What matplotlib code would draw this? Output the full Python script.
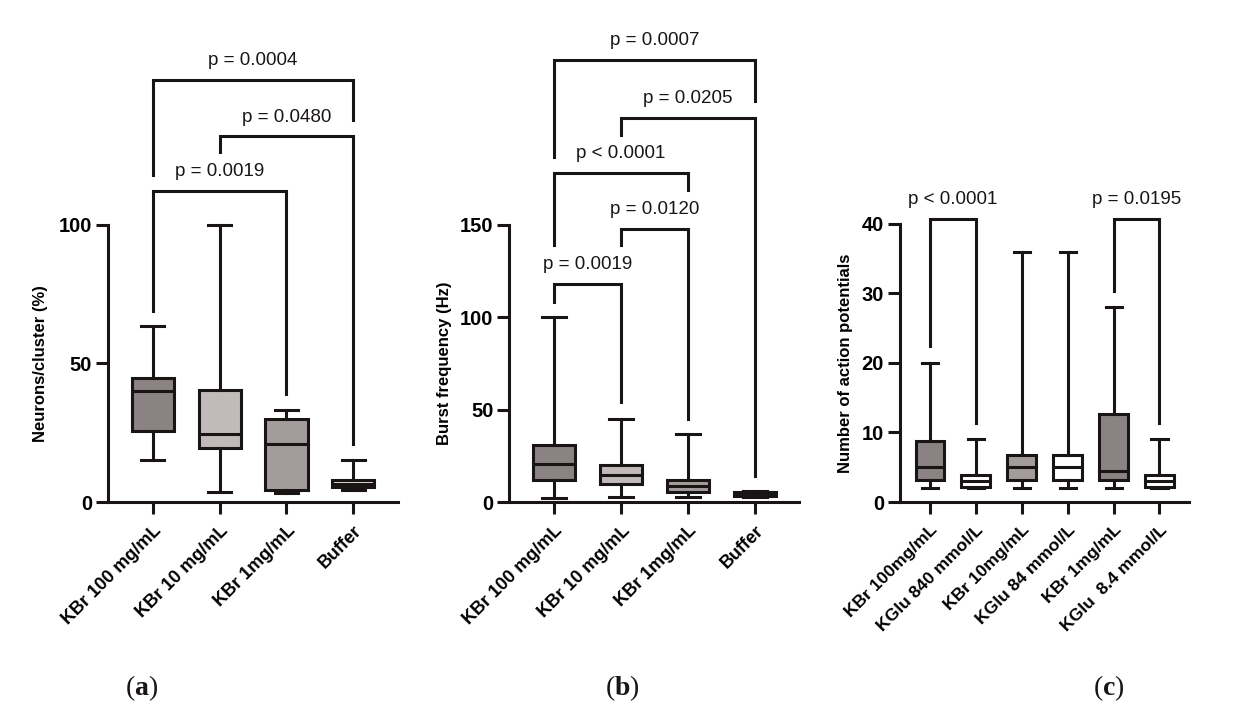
import matplotlib.pyplot as plt

plt.rcParams['font.family'] = ['Liberation Sans', 'DejaVu Sans']
plt.rcParams['mathtext.fontset'] = 'custom'
plt.rcParams['mathtext.rm'] = 'Liberation Serif'
plt.rcParams['mathtext.bf'] = 'Liberation Serif:bold'

INK = '#1a1515'

# (a) neurons per cluster
a_labels = ['KBr 100 mg/mL', 'KBr 10 mg/mL', 'KBr 1mg/mL', 'Buffer']
a_low = [15.0, 3.7, 3.2, 4.2]
a_q1 = [25.5, 19.6, 4.2, 5.4]
a_med = [40.0, 24.6, 20.8, 6.6]
a_q3 = [44.7, 40.5, 30.0, 7.9]
a_high = [63.4, 100.0, 33.0, 15.0]
a_colors = ['#8b8283', '#c1b9ba', '#a39b9c', '#dedada']
a_pairs = [(0, 2), (1, 3), (0, 3)]
a_bar_y = [112.0, 131.8, 152.3]
a_left_end = [69.0, 126.2, 117.8]
a_right_end = [38.8, 21.0, 137.9]
a_pvals = ['p = 0.0019', 'p = 0.0480', 'p = 0.0004']

# (b) burst frequency
b_labels = ['KBr 100 mg/mL', 'KBr 10 mg/mL', 'KBr 1mg/mL', 'Buffer']
b_low = [2.4, 2.7, 2.7, 2.5]
b_q1 = [12.1, 9.6, 5.4, 3.2]
b_med = [20.4, 14.4, 8.7, 4.2]
b_q3 = [30.7, 20.2, 12.1, 5.2]
b_high = [100.0, 45.1, 36.6, 6.0]
b_colors = ['#8b8283', '#c1b9ba', '#a39b9c', '#1a1414']
b_pairs = [(0, 1), (1, 2), (0, 2), (1, 3), (0, 3)]
b_bar_y = [117.7, 147.5, 177.9, 207.9, 238.9]
b_left_end = [108.2, 138.8, 138.8, 198.3, 186.6]
b_right_end = [54.0, 45.1, 168.5, 13.9, 216.7]
b_pvals = ['p = 0.0019', 'p = 0.0120', 'p < 0.0001', 'p = 0.0205', 'p = 0.0007']

# (c) number of action potentials
c_labels = ['KBr 100mg/mL', 'KGlu 840 mmol/L', 'KBr 10mg/mL',
            'KGlu 84 mmol/L', 'KBr 1mg/mL', 'KGlu  8.4 mmol/L']
c_low = [2, 2, 2, 2, 2, 2]
c_q1 = [3.1, 2.1, 3.1, 3.1, 3.1, 2.1]
c_med = [5, 3, 5, 5, 4.5, 3]
c_q3 = [8.8, 3.9, 6.8, 6.8, 12.7, 3.9]
c_high = [20, 9, 36, 36, 28, 9]
c_colors = ['#8b8283', '#ffffff', '#a39b9c', '#ffffff', '#8b8283', '#ffffff']
c_pairs = [(0, 1), (4, 5)]
c_bar_y = [40.7, 40.7]
c_left_end = [22.4, 30.3]
c_right_end = [11.4, 11.4]
c_pvals = ['p < 0.0001', 'p = 0.0195']


def panel(ax, labels, low, q1, med, q3, high, colors, pairs, bar_y,
          left_end, right_end, pvals, ylabel, yticks, ytop, xlim, label_x,
          xfont):
    lw = 2.2
    n = len(labels)
    pos = list(range(n))
    stats = [dict(whislo=low[i], q1=q1[i], med=med[i], q3=q3[i],
                  whishi=high[i], fliers=[]) for i in pos]
    bp = ax.bxp(stats, positions=pos, widths=0.63, capwidths=0.35,
                patch_artist=True, showfliers=False,
                boxprops=dict(linewidth=lw, edgecolor=INK),
                medianprops=dict(linewidth=lw, color=INK),
                whiskerprops=dict(linewidth=lw, color=INK),
                capprops=dict(linewidth=lw, color=INK))
    for patch, c in zip(bp['boxes'], colors):
        patch.set_facecolor(c)

    for (i, j), y, le, re, txt in zip(pairs, bar_y, left_end, right_end, pvals):
        ax.plot([i, i, j, j], [le, y, y, re], color=INK, lw=lw,
                clip_on=False, solid_joinstyle='miter')
        ax.annotate(txt, xy=((i + j) / 2, y), xytext=(0, 14),
                    textcoords='offset points', ha='center', va='center',
                    fontsize=13.5, color=INK, annotation_clip=False)

    ax.set_xlim(*xlim)
    ax.set_ylim(0, ytop)
    ax.set_yticks(yticks)
    ax.set_yticklabels([str(t) for t in yticks], fontsize=14.5,
                       fontweight='bold')
    ax.set_xticks(pos)
    ax.set_xticklabels(labels, rotation=45, ha='right',
                       rotation_mode='anchor', fontsize=xfont,
                       fontweight='bold')
    for sp in ['top', 'right']:
        ax.spines[sp].set_visible(False)
    ax.spines['left'].set_bounds(0, yticks[-1])
    for sp in ['left', 'bottom']:
        ax.spines[sp].set_linewidth(lw)
        ax.spines[sp].set_color(INK)
    ax.tick_params(length=8.5, width=lw, color=INK, pad=3)
    ax.tick_params(axis='x', pad=6)
    ax.set_ylabel(ylabel, fontsize=12, fontweight='bold')
    ax.yaxis.set_label_coords(label_x, yticks[-1] / 2 / ytop)


fig = plt.figure(figsize=(12.41, 7.09), dpi=100)
bottom = 207 / 709
height = 472 / 709

ax_a = fig.add_axes([108 / 1241, bottom, 290 / 1241, height])
panel(ax_a, a_labels, a_low, a_q1, a_med, a_q3, a_high, a_colors, a_pairs,
      a_bar_y, a_left_end, a_right_end, a_pvals, 'Neurons/cluster (%)',
      [0, 50, 100], 170.2, (-0.668, 3.667), -0.207, 13)

ax_b = fig.add_axes([509.3 / 1241, bottom, 290 / 1241, height])
panel(ax_b, b_labels, b_low, b_q1, b_med, b_q3, b_high, b_colors, b_pairs,
      b_bar_y, b_left_end, b_right_end, b_pvals, 'Burst frequency (Hz)',
      [0, 50, 100, 150], 255.3, (-0.667, 3.66), -0.198, 13)

ax_c = fig.add_axes([900 / 1241, bottom, 289.3 / 1241, height])
panel(ax_c, c_labels, c_low, c_q1, c_med, c_q3, c_high, c_colors, c_pairs,
      c_bar_y, c_left_end, c_right_end, c_pvals,
      'Number of action potentials', [0, 10, 20, 30, 40], 67.9,
      (-0.654, 5.65), -0.162, 12.6)

for x, letter in [(142, 'a'), (622, 'b'), (1109, 'c')]:
    fig.text(x / 1241, 1 - 688 / 709, r'($\mathbf{%s}$)' % letter,
             ha='center', va='center', fontsize=20, color=INK,
             family='Liberation Serif')

fig.savefig('out.png', dpi=100)
